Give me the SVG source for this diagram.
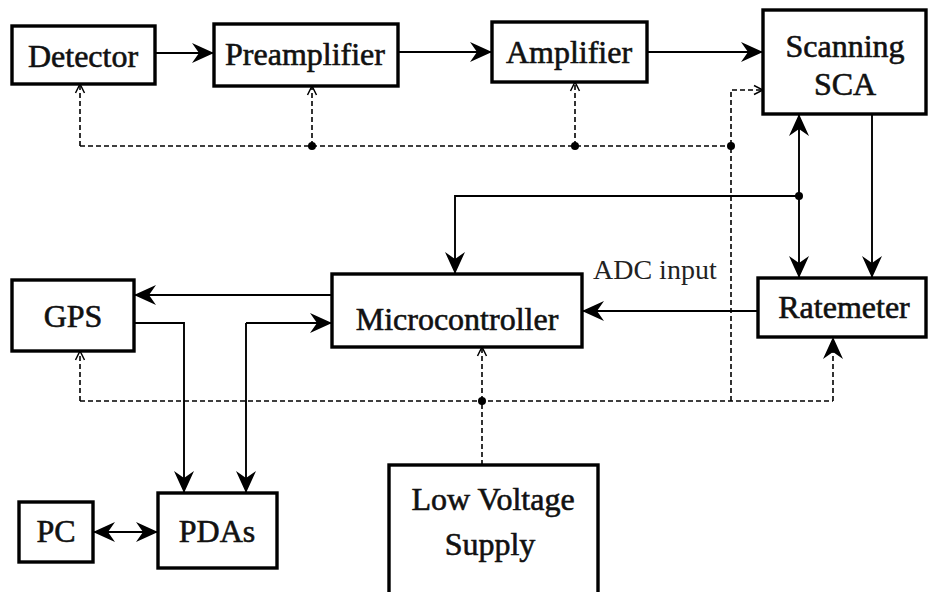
<svg xmlns="http://www.w3.org/2000/svg" width="928" height="592" viewBox="0 0 928 592">
<style>
.box{fill:#fff;stroke:#000;stroke-width:3.4}
.lbl{font-family:"Liberation Serif","Times New Roman",serif;font-size:32px;fill:#111;stroke:#111;stroke-width:0.6;text-anchor:middle}
.adc{font-family:"Liberation Serif","Times New Roman",serif;font-size:28px;fill:#222}
.ln{fill:none;stroke:#000;stroke-width:1.9}
.ds{fill:none;stroke:#000;stroke-width:1.6;stroke-dasharray:5 3}
.dot{fill:#000}
</style>
<defs>
<marker id="a" markerUnits="userSpaceOnUse" markerWidth="26" markerHeight="24" refX="22" refY="12" orient="auto-start-reverse">
<path d="M0,2 L22,12 L0,22 L7,12 Z" fill="#000"/>
</marker>
<marker id="o" markerUnits="userSpaceOnUse" markerWidth="12" markerHeight="12" refX="10" refY="6" orient="auto">
<path d="M1,1.5 L10,6 L1,10.5" fill="none" stroke="#000" stroke-width="1.5"/>
</marker>
</defs>
<rect width="928" height="592" fill="#fff"/>
<g id="connectors">
<path class="ln" d="M155,53 H214" marker-end="url(#a)"/>
<path class="ln" d="M398,52 H492" marker-end="url(#a)"/>
<path class="ln" d="M647,52 H763" marker-end="url(#a)"/>
<path class="ln" d="M872,114 V278" marker-end="url(#a)"/>
<path class="ln" d="M799,196 V114" marker-end="url(#a)"/>
<path class="ln" d="M799,196 V278" marker-end="url(#a)"/>
<path class="ln" d="M799,196 H455 V274" marker-end="url(#a)"/>
<path class="ln" d="M758,311 H582" marker-end="url(#a)"/>
<path class="ln" d="M332,295 H134" marker-end="url(#a)"/>
<path class="ln" d="M134,323 H184 V493" marker-end="url(#a)"/>
<path class="ln" d="M246,323 V493" marker-end="url(#a)"/>
<path class="ln" d="M246,323 H332" marker-end="url(#a)"/>
<path class="ln" d="M93,532 H158" marker-start="url(#a)" marker-end="url(#a)"/>
<circle class="dot" cx="799" cy="196" r="4"/>
<path class="ds" d="M80,146 H731"/>
<path class="ds" d="M80,146 V84" marker-end="url(#o)"/>
<path class="ds" d="M312,146 V86" marker-end="url(#o)"/>
<path class="ds" d="M575,146 V82" marker-end="url(#o)"/>
<path class="ds" d="M731,401 V90 H763" marker-end="url(#o)"/>
<path class="ds" d="M80,401 H833"/>
<path class="ds" d="M80,401 V351" marker-end="url(#o)"/>
<path class="ds" d="M482,465 V347" marker-end="url(#o)"/>
<path class="ds" d="M833,401 V337" marker-end="url(#a)"/>
<circle class="dot" cx="312" cy="146" r="4"/>
<circle class="dot" cx="575" cy="146" r="4"/>
<circle class="dot" cx="731" cy="146" r="4"/>
<circle class="dot" cx="482" cy="401" r="4"/>
</g>
<g id="detector"><rect class="box" x="12" y="26" width="143" height="58"/><text class="lbl" x="83" y="67">Detector</text></g>
<g id="preamplifier"><rect class="box" x="214" y="24" width="184" height="62"/><text class="lbl" x="305" y="65">Preamplifier</text></g>
<g id="amplifier"><rect class="box" x="492" y="22" width="155" height="60"/><text class="lbl" x="569" y="63">Amplifier</text></g>
<g id="scanning-sca"><rect class="box" x="763" y="10" width="163" height="104"/><text class="lbl" x="845" y="57">Scanning</text><text class="lbl" x="845" y="95">SCA</text></g>
<g id="microcontroller"><rect class="box" x="332" y="274" width="250" height="73"/><text class="lbl" x="457" y="330">Microcontroller</text></g>
<g id="ratemeter"><rect class="box" x="758" y="278" width="168" height="59"/><text class="lbl" x="844" y="318">Ratemeter</text></g>
<g id="gps"><rect class="box" x="12" y="280" width="122" height="71"/><text class="lbl" x="73" y="327">GPS</text></g>
<g id="pdas"><rect class="box" x="158" y="493" width="119" height="75"/><text class="lbl" x="217" y="542">PDAs</text></g>
<g id="pc"><rect class="box" x="19" y="502" width="74" height="60"/><text class="lbl" x="56" y="542">PC</text></g>
<g id="low-voltage-supply"><rect class="box" x="389" y="465" width="209" height="132"/><text class="lbl" x="493" y="510">Low Voltage</text><text class="lbl" x="490" y="555">Supply</text></g>
<text class="adc" x="593" y="279">ADC input</text>
</svg>
